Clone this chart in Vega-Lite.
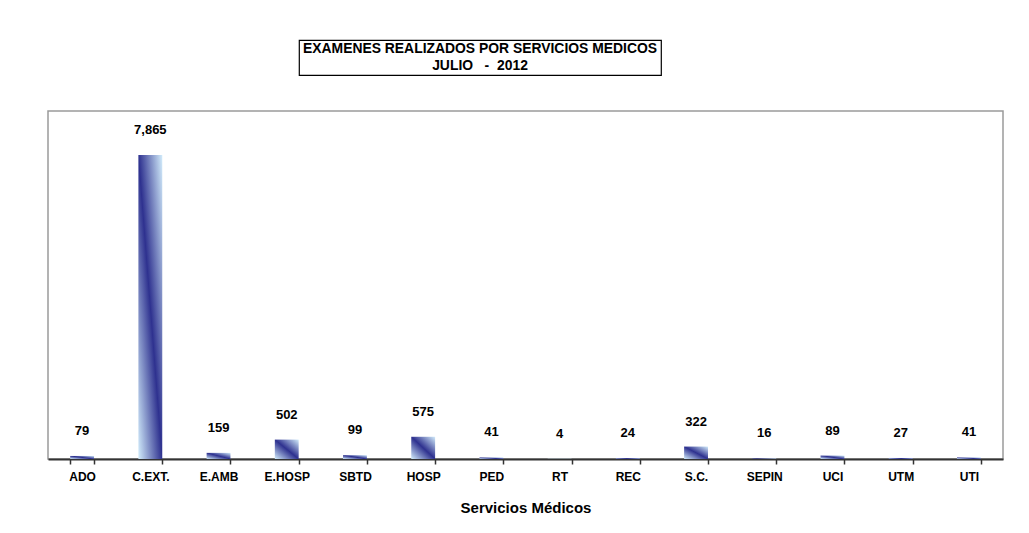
{
  "$schema": "https://vega.github.io/schema/vega-lite/v6.json",
  "background": "white",
  "padding": {"left": 47, "top": 39, "right": 0, "bottom": 0},
  "autosize": {"type": "pad"},
  "config": {"font": "Liberation Sans", "view": {"stroke": null}},
  "spacing": 34,
  "vconcat": [
    {
      "spacing": 0,
      "hconcat": [
        {
          "width": 250,
          "height": 35,
          "data": {"values": [{"k": 1}]},
          "mark": {"type": "point", "opacity": 0},
          "encoding": {},
          "view": {"stroke": null}
        },
        {
          "width": 362,
          "height": 35,
          "data": {"values": [
            {"line": 1, "label": "EXAMENES REALIZADOS POR SERVICIOS MEDICOS"},
            {"line": 2, "label": "JULIO\u00a0\u00a0\u00a0-\u00a0\u00a02012"}
          ]},
          "mark": {"type": "text", "fontWeight": "bold", "fontSize": 13.9, "font": "Liberation Sans", "color": "black"},
          "encoding": {
            "y": {"field": "line", "type": "ordinal", "axis": null},
            "text": {"field": "label", "type": "nominal"}
          },
          "view": {"stroke": "black", "strokeWidth": 1.2}
        }
      ]
    },
    {
      "width": 955,
      "height": 348,
      "view": {"stroke": "#9a9a9a", "strokeWidth": 1.5},
      "data": {"values": [
        {"servicio": "ADO", "examenes": 79},
        {"servicio": "C.EXT.", "examenes": 7865},
        {"servicio": "E.AMB", "examenes": 159},
        {"servicio": "E.HOSP", "examenes": 502},
        {"servicio": "SBTD", "examenes": 99},
        {"servicio": "HOSP", "examenes": 575},
        {"servicio": "PED", "examenes": 41},
        {"servicio": "RT", "examenes": 4},
        {"servicio": "REC", "examenes": 24},
        {"servicio": "S.C.", "examenes": 322},
        {"servicio": "SEPIN", "examenes": 16},
        {"servicio": "UCI", "examenes": 89},
        {"servicio": "UTM", "examenes": 27},
        {"servicio": "UTI", "examenes": 41}
      ]},
      "encoding": {
        "x": {
          "field": "servicio",
          "type": "nominal",
          "sort": null,
          "scale": {"paddingInner": 0.65, "paddingOuter": 0.325},
          "axis": {
            "title": "Servicios Médicos",
            "labelAngle": 0,
            "tickBand": "extent",
            "domainColor": "#333333",
            "domainWidth": 2,
            "tickColor": "#333333",
            "tickWidth": 1.5,
            "tickSize": 5,
            "labelFont": "Liberation Sans",
            "labelFontWeight": "bold",
            "labelFontSize": 12,
            "labelColor": "black",
            "labelPadding": 7,
            "titleFont": "Liberation Sans",
            "titleFontSize": 15,
            "titleFontWeight": "bold",
            "titleColor": "black",
            "titlePadding": 18
          }
        },
        "y": {
          "field": "examenes",
          "type": "quantitative",
          "scale": {"domain": [0, 9000]},
          "axis": null
        }
      },
      "layer": [
        {
          "mark": {
            "type": "bar",
            "color": {
              "gradient": "linear",
              "x1": 0, "y1": 1, "x2": 1, "y2": 0,
              "stops": [
                {"offset": 0, "color": "#d2ecfb"},
                {"offset": 0.5, "color": "#2e318f"},
                {"offset": 1, "color": "#d2ecfb"}
              ]
            }
          }
        },
        {
          "mark": {"type": "text", "dy": -25, "fontWeight": "bold", "fontSize": 13, "font": "Liberation Sans", "color": "black"},
          "encoding": {
            "text": {"field": "examenes", "type": "quantitative", "format": ","}
          }
        }
      ]
    }
  ]
}
